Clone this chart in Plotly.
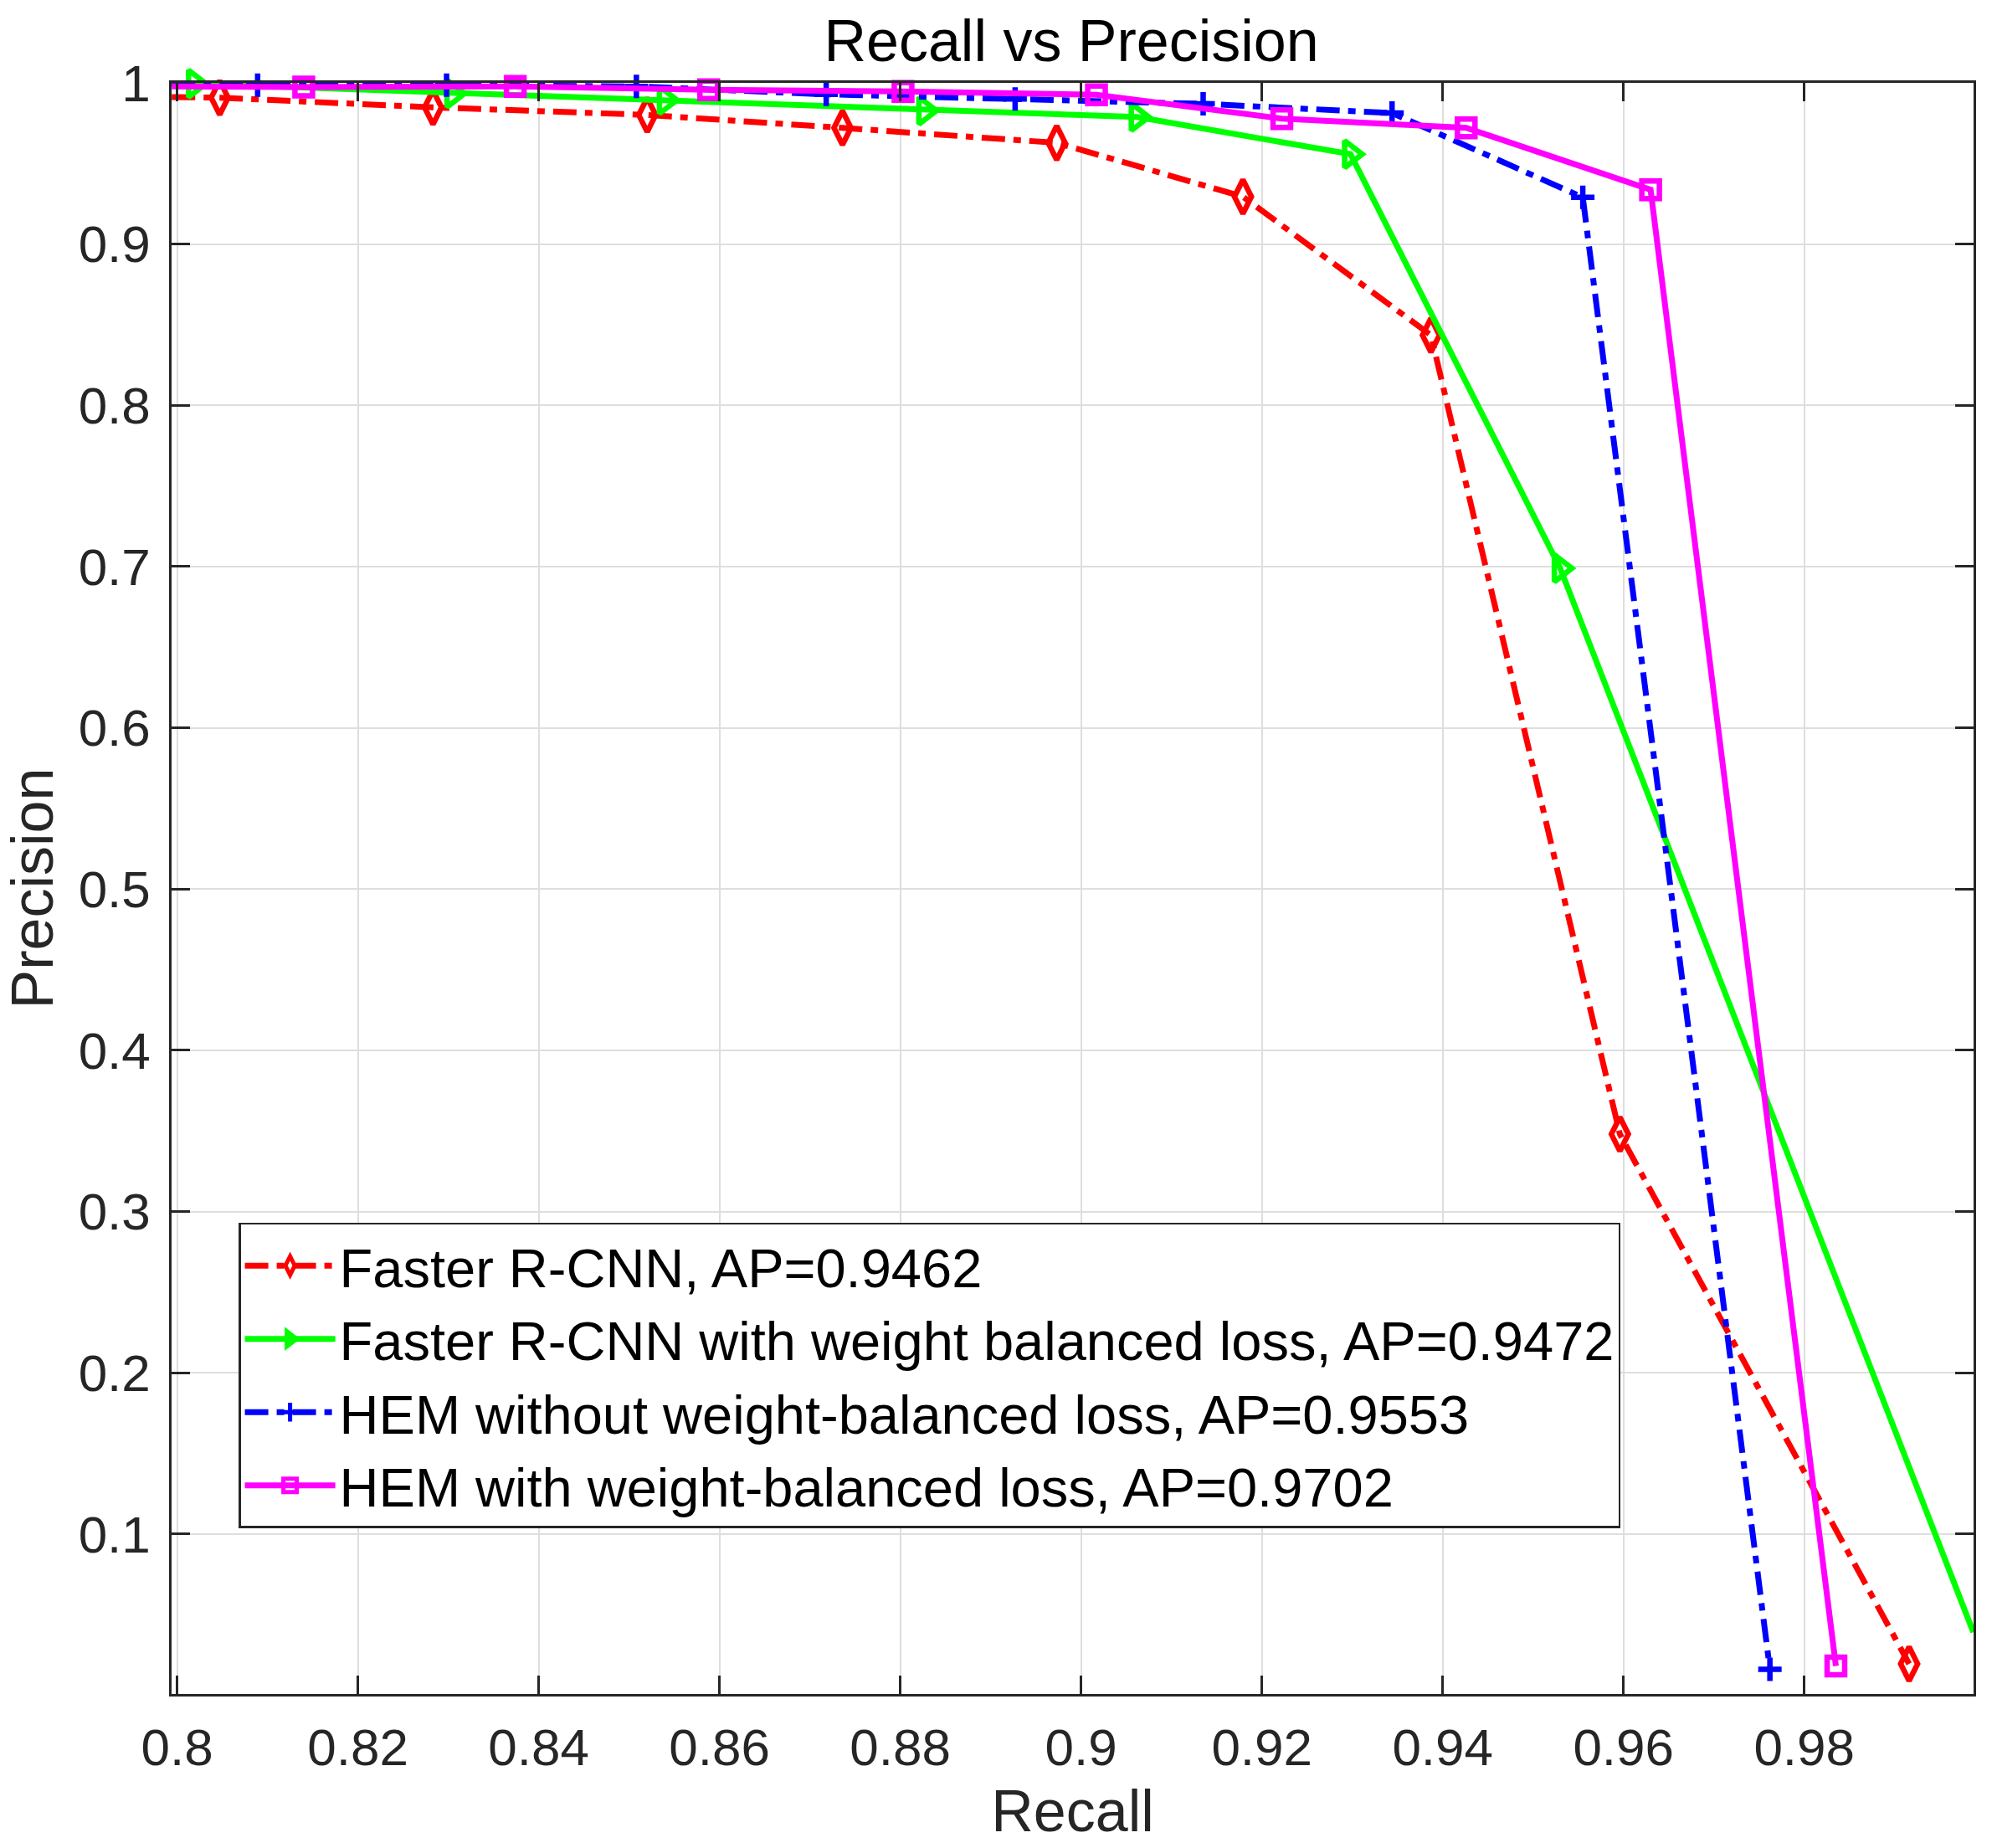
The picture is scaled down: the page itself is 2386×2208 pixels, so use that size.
import plotly.graph_objects as go

# ---------------- data ----------------
recall_frcnn = [0.7994, 0.8047, 0.8283, 0.8520, 0.8736, 0.8973, 0.9179, 0.9387, 0.9596, 0.9916]
prec_frcnn = [0.9912, 0.9908, 0.9848, 0.9801, 0.9721, 0.9628, 0.9294, 0.8435, 0.3480, 0.0195]
mark_frcnn = [1, 2, 3, 4, 5, 6, 7, 8, 9]

recall_frcnn_wb = [0.7994, 0.8019, 0.8305, 0.8540, 0.8827, 0.9062, 0.9298, 0.9530, 0.9987]
prec_frcnn_wb = [1.0000, 0.9995, 0.9934, 0.9893, 0.9828, 0.9788, 0.9558, 0.6990, 0.0391]
mark_frcnn_wb = [1, 2, 3, 4, 5, 6, 7]

recall_hem = [0.7994, 0.8089, 0.8298, 0.8508, 0.8718, 0.8927, 0.9135, 0.9344, 0.9555, 0.9762]
prec_hem = [0.9995, 0.9986, 0.9986, 0.9978, 0.9929, 0.9900, 0.9870, 0.9813, 0.9290, 0.0161]
mark_hem = [1, 2, 3, 4, 5, 6, 7, 8, 9]

recall_hem_wb = [0.7994, 0.8140, 0.8374, 0.8588, 0.8803, 0.9017, 0.9222, 0.9426, 0.9630, 0.9835]
prec_hem_wb = [0.9978, 0.9974, 0.9978, 0.9957, 0.9947, 0.9926, 0.9778, 0.9721, 0.9337, 0.0182]
mark_hem_wb = [1, 2, 3, 4, 5, 6, 7, 8, 9]

series_names = [
    "Faster R-CNN, AP=0.9462",
    "Faster R-CNN with weight balanced loss, AP=0.9472",
    "HEM without weight-balanced loss, AP=0.9553",
    "HEM with weight-balanced loss, AP=0.9702",
]

x_ticks = [0.80, 0.82, 0.84, 0.86, 0.88, 0.90, 0.92, 0.94, 0.96, 0.98]
x_tick_labels = ["0.8", "0.82", "0.84", "0.86", "0.88", "0.9", "0.92", "0.94", "0.96", "0.98"]
y_ticks = [0.1, 0.2, 0.3, 0.4, 0.5, 0.6, 0.7, 0.8, 0.9, 1.0]
y_tick_labels = ["0.1", "0.2", "0.3", "0.4", "0.5", "0.6", "0.7", "0.8", "0.9", "1"]

# ---------------- styles ----------------
FONT = "Liberation Sans, Arial, Helvetica, sans-serif"
AX = "#262626"
dashdot = "28px,10px,9px,10px"
styles = [
    dict(color="#ff0000", dash=dashdot, symbol="diamond-tall-open", size=29),
    dict(color="#00ff00", dash="solid", symbol="triangle-right-open", size=28),
    dict(color="#0000ff", dash=dashdot, symbol="cross-thin-open", size=20),
    dict(color="#ff00ff", dash="solid", symbol="square-open", size=21),
]
all_x = [recall_frcnn, recall_frcnn_wb, recall_hem, recall_hem_wb]
all_y = [prec_frcnn, prec_frcnn_wb, prec_hem, prec_hem_wb]
all_m = [mark_frcnn, mark_frcnn_wb, mark_hem, mark_hem_wb]

fig = go.Figure()
for name, xs, ys, mi, st in zip(series_names, all_x, all_y, all_m, styles):
    fig.add_trace(go.Scatter(
        x=xs, y=ys, mode="lines", showlegend=False, hoverinfo="skip",
        line=dict(color=st["color"], width=7, dash=st["dash"]),
        cliponaxis=True,
    ))
    fig.add_trace(go.Scatter(
        x=[xs[i] for i in mi], y=[ys[i] for i in mi], mode="markers",
        showlegend=False, cliponaxis=False,
        marker=dict(symbol=st["symbol"], size=st["size"], color=st["color"],
                    line=dict(color=st["color"], width=6.5)),
    ))
    fig.add_trace(go.Scatter(
        x=[None], y=[None], mode="lines+markers", name=name,
        line=dict(color=st["color"], width=7, dash=st["dash"]),
        marker=dict(symbol=st["symbol"], size=st["size"], color=st["color"],
                    line=dict(color=st["color"], width=5)),
    ))

axis_common = dict(
    showline=True, linecolor=AX, linewidth=2.5, mirror="ticks",
    ticks="inside", ticklen=22, tickwidth=2.5, tickcolor=AX,
    showgrid=True, gridcolor="#dedede", gridwidth=2, zeroline=False,
    tickfont=dict(family=FONT, size=62, color=AX), automargin=False,
)

fig.update_layout(
    width=2386, height=2208,
    margin=dict(l=205, r=28, t=99, b=184, pad=0),
    paper_bgcolor="white", plot_bgcolor="white",
    font=dict(family=FONT, color=AX),
    title=dict(text="Recall vs Precision", x=0.5365, xanchor="center",
               y=0.978, yanchor="middle", yref="container",
               font=dict(family=FONT, size=70, color="black")),
    xaxis=dict(range=[0.79938, 0.99873], tickvals=x_ticks, ticktext=x_tick_labels,
               ticklabelstandoff=8,
               title=dict(text="Recall", font=dict(family=FONT, size=70, color=AX), standoff=18),
               **axis_common),
    yaxis=dict(range=[0.0008, 1.0], tickvals=y_ticks, ticktext=y_tick_labels,
               ticklabelstandoff=10,
               title=dict(text="Precision", font=dict(family=FONT, size=70, color=AX), standoff=28),
               **axis_common),
    legend=dict(x=0.0372, y=0.2925, xanchor="left", yanchor="top",
                bgcolor="white", bordercolor=AX, borderwidth=2.5,
                font=dict(family=FONT, size=65, color="black"),
                itemwidth=108, tracegroupgap=0),
    showlegend=True,
)

fig.write_html("out.html", config={"displayModeBar": False},
               post_script="document.body.style.margin='0';document.body.style.padding='0';")
